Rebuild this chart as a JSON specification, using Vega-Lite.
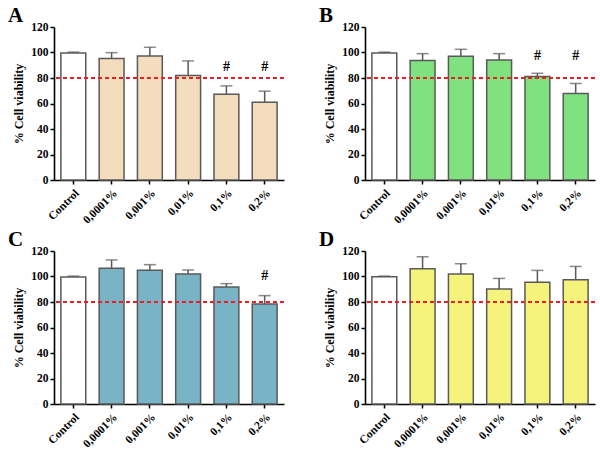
{
  "$schema": "https://vega.github.io/schema/vega-lite/v6.json",
  "background": "white",
  "padding": {"left": 8, "top": 5, "right": 5, "bottom": 0},
  "datasets": {
    "cells": [
      {"panel": "A", "group": "Control", "mean": 99.7, "upper": 100.3, "sig": "", "sig_level": 88.5},
      {"panel": "A", "group": "0,0001%", "mean": 95.2, "upper": 99.9, "sig": "", "sig_level": 88.5},
      {"panel": "A", "group": "0,001%", "mean": 97.3, "upper": 104.1, "sig": "", "sig_level": 88.5},
      {"panel": "A", "group": "0,01%", "mean": 81.9, "upper": 93.4, "sig": "", "sig_level": 88.5},
      {"panel": "A", "group": "0,1%", "mean": 67.3, "upper": 73.8, "sig": "#", "sig_level": 88.5},
      {"panel": "A", "group": "0,2%", "mean": 61.0, "upper": 69.7, "sig": "#", "sig_level": 88.5},
      {"panel": "B", "group": "Control", "mean": 99.7, "upper": 100.3, "sig": "", "sig_level": 97},
      {"panel": "B", "group": "0,0001%", "mean": 93.7, "upper": 99.1, "sig": "", "sig_level": 97},
      {"panel": "B", "group": "0,001%", "mean": 97.0, "upper": 102.5, "sig": "", "sig_level": 97},
      {"panel": "B", "group": "0,01%", "mean": 94.2, "upper": 99.1, "sig": "", "sig_level": 97},
      {"panel": "B", "group": "0,1%", "mean": 81.1, "upper": 83.7, "sig": "#", "sig_level": 97},
      {"panel": "B", "group": "0,2%", "mean": 67.8, "upper": 75.7, "sig": "#", "sig_level": 97},
      {"panel": "C", "group": "Control", "mean": 99.7, "upper": 100.3, "sig": "", "sig_level": 100.5},
      {"panel": "C", "group": "0,0001%", "mean": 106.4, "upper": 113.0, "sig": "", "sig_level": 100.5},
      {"panel": "C", "group": "0,001%", "mean": 104.9, "upper": 109.3, "sig": "", "sig_level": 100.5},
      {"panel": "C", "group": "0,01%", "mean": 102.0, "upper": 105.1, "sig": "", "sig_level": 100.5},
      {"panel": "C", "group": "0,1%", "mean": 91.8, "upper": 94.4, "sig": "", "sig_level": 100.5},
      {"panel": "C", "group": "0,2%", "mean": 78.5, "upper": 85.0, "sig": "#", "sig_level": 100.5},
      {"panel": "D", "group": "Control", "mean": 99.8, "upper": 100.3, "sig": "", "sig_level": 0},
      {"panel": "D", "group": "0,0001%", "mean": 106.1, "upper": 115.5, "sig": "", "sig_level": 0},
      {"panel": "D", "group": "0,001%", "mean": 101.9, "upper": 110.0, "sig": "", "sig_level": 0},
      {"panel": "D", "group": "0,01%", "mean": 90.1, "upper": 98.5, "sig": "", "sig_level": 0},
      {"panel": "D", "group": "0,1%", "mean": 95.4, "upper": 104.8, "sig": "", "sig_level": 0},
      {"panel": "D", "group": "0,2%", "mean": 97.5, "upper": 107.9, "sig": "", "sig_level": 0}
    ],
    "threshold": [{"cutoff": 80}]
  },
  "config": {
    "font": "Liberation Serif",
    "view": {"stroke": null},
    "title": {"font": "Liberation Serif", "fontSize": 21, "fontWeight": "bold", "anchor": "start", "frame": "group", "dx": -46, "offset": -5, "color": "black"},
    "axis": {
      "labelFont": "Liberation Serif", "labelFontWeight": "bold", "labelFontSize": 11.5, "labelColor": "black", "labelOverlap": false,
      "titleFont": "Liberation Serif", "titleFontWeight": "bold", "titleFontSize": 12, "titleColor": "black",
      "domainColor": "black", "domainWidth": 1.6, "tickColor": "black", "tickWidth": 1.5, "tickSize": 4, "grid": false
    },
    "axisY": {"values": [0, 20, 40, 60, 80, 100, 120], "tickCount": 7, "titlePadding": 5}
  },
  "columns": 2,
  "bounds": "flush",
  "spacing": {"row": 71, "column": 81},
  "concat": [
    {
      "title": "A",
      "width": 230, "height": 153,
      "layer": [
        {
          "data": {"name": "cells"},
          "transform": [{"filter": "datum.panel === 'A'"}],
          "layer": [
            {"mark": {"type": "bar", "stroke": "#595959", "strokeWidth": 1.5},
             "encoding": {
               "x": {"field": "group", "type": "nominal", "sort": ["Control", "0,0001%", "0,001%", "0,01%", "0,1%", "0,2%"], "scale": {"paddingInner": 0.35, "paddingOuter": 0.18}, "axis": {"title": null, "labelAngle": -45, "labelPadding": 3}},
               "y": {"field": "mean", "type": "quantitative", "scale": {"domain": [0, 120]}, "axis": {"title": "% Cell viability", "values": [0, 20, 40, 60, 80, 100, 120], "tickCount": 7}},
               "fill": {"condition": {"test": "datum.group === 'Control'", "value": "white"}, "value": "#f4ddbd"}
             }},
            {"mark": {"type": "rule", "color": "#595959", "strokeWidth": 1.5},
             "encoding": {"x": {"field": "group", "type": "nominal", "sort": ["Control", "0,0001%", "0,001%", "0,01%", "0,1%", "0,2%"]}, "y": {"field": "mean", "type": "quantitative"}, "y2": {"field": "upper"}}},
            {"mark": {"type": "tick", "color": "#595959", "size": 12, "thickness": 1.5},
             "encoding": {"x": {"field": "group", "type": "nominal", "sort": ["Control", "0,0001%", "0,001%", "0,01%", "0,1%", "0,2%"]}, "y": {"field": "upper", "type": "quantitative"}}},
            {"mark": {"type": "text", "fontSize": 14, "fontWeight": "bold", "color": "black", "baseline": "middle"},
             "encoding": {"x": {"field": "group", "type": "nominal", "sort": ["Control", "0,0001%", "0,001%", "0,01%", "0,1%", "0,2%"]}, "y": {"field": "sig_level", "type": "quantitative"}, "text": {"field": "sig"}}}
          ]
        },
        {"data": {"name": "threshold"}, "mark": {"type": "rule", "color": "#ee1c25", "strokeWidth": 2, "strokeDash": [4, 3]},
         "encoding": {"y": {"field": "cutoff", "type": "quantitative", "axis": {"title": "% Cell viability", "values": [0, 20, 40, 60, 80, 100, 120], "tickCount": 7}}}}
      ]
    },
    {
      "title": "B",
      "width": 230, "height": 153,
      "layer": [
        {
          "data": {"name": "cells"},
          "transform": [{"filter": "datum.panel === 'B'"}],
          "layer": [
            {"mark": {"type": "bar", "stroke": "#595959", "strokeWidth": 1.5},
             "encoding": {
               "x": {"field": "group", "type": "nominal", "sort": ["Control", "0,0001%", "0,001%", "0,01%", "0,1%", "0,2%"], "scale": {"paddingInner": 0.35, "paddingOuter": 0.18}, "axis": {"title": null, "labelAngle": -45, "labelPadding": 3}},
               "y": {"field": "mean", "type": "quantitative", "scale": {"domain": [0, 120]}, "axis": {"title": "% Cell viability", "values": [0, 20, 40, 60, 80, 100, 120], "tickCount": 7}},
               "fill": {"condition": {"test": "datum.group === 'Control'", "value": "white"}, "value": "#80e27e"}
             }},
            {"mark": {"type": "rule", "color": "#595959", "strokeWidth": 1.5},
             "encoding": {"x": {"field": "group", "type": "nominal", "sort": ["Control", "0,0001%", "0,001%", "0,01%", "0,1%", "0,2%"]}, "y": {"field": "mean", "type": "quantitative"}, "y2": {"field": "upper"}}},
            {"mark": {"type": "tick", "color": "#595959", "size": 12, "thickness": 1.5},
             "encoding": {"x": {"field": "group", "type": "nominal", "sort": ["Control", "0,0001%", "0,001%", "0,01%", "0,1%", "0,2%"]}, "y": {"field": "upper", "type": "quantitative"}}},
            {"mark": {"type": "text", "fontSize": 14, "fontWeight": "bold", "color": "black", "baseline": "middle"},
             "encoding": {"x": {"field": "group", "type": "nominal", "sort": ["Control", "0,0001%", "0,001%", "0,01%", "0,1%", "0,2%"]}, "y": {"field": "sig_level", "type": "quantitative"}, "text": {"field": "sig"}}}
          ]
        },
        {"data": {"name": "threshold"}, "mark": {"type": "rule", "color": "#ee1c25", "strokeWidth": 2, "strokeDash": [4, 3]},
         "encoding": {"y": {"field": "cutoff", "type": "quantitative", "axis": {"title": "% Cell viability", "values": [0, 20, 40, 60, 80, 100, 120], "tickCount": 7}}}}
      ]
    },
    {
      "title": "C",
      "width": 230, "height": 153,
      "layer": [
        {
          "data": {"name": "cells"},
          "transform": [{"filter": "datum.panel === 'C'"}],
          "layer": [
            {"mark": {"type": "bar", "stroke": "#595959", "strokeWidth": 1.5},
             "encoding": {
               "x": {"field": "group", "type": "nominal", "sort": ["Control", "0,0001%", "0,001%", "0,01%", "0,1%", "0,2%"], "scale": {"paddingInner": 0.35, "paddingOuter": 0.18}, "axis": {"title": null, "labelAngle": -45, "labelPadding": 3}},
               "y": {"field": "mean", "type": "quantitative", "scale": {"domain": [0, 120]}, "axis": {"title": "% Cell viability", "values": [0, 20, 40, 60, 80, 100, 120], "tickCount": 7}},
               "fill": {"condition": {"test": "datum.group === 'Control'", "value": "white"}, "value": "#79b4c6"}
             }},
            {"mark": {"type": "rule", "color": "#595959", "strokeWidth": 1.5},
             "encoding": {"x": {"field": "group", "type": "nominal", "sort": ["Control", "0,0001%", "0,001%", "0,01%", "0,1%", "0,2%"]}, "y": {"field": "mean", "type": "quantitative"}, "y2": {"field": "upper"}}},
            {"mark": {"type": "tick", "color": "#595959", "size": 12, "thickness": 1.5},
             "encoding": {"x": {"field": "group", "type": "nominal", "sort": ["Control", "0,0001%", "0,001%", "0,01%", "0,1%", "0,2%"]}, "y": {"field": "upper", "type": "quantitative"}}},
            {"mark": {"type": "text", "fontSize": 14, "fontWeight": "bold", "color": "black", "baseline": "middle"},
             "encoding": {"x": {"field": "group", "type": "nominal", "sort": ["Control", "0,0001%", "0,001%", "0,01%", "0,1%", "0,2%"]}, "y": {"field": "sig_level", "type": "quantitative"}, "text": {"field": "sig"}}}
          ]
        },
        {"data": {"name": "threshold"}, "mark": {"type": "rule", "color": "#ee1c25", "strokeWidth": 2, "strokeDash": [4, 3]},
         "encoding": {"y": {"field": "cutoff", "type": "quantitative", "axis": {"title": "% Cell viability", "values": [0, 20, 40, 60, 80, 100, 120], "tickCount": 7}}}}
      ]
    },
    {
      "title": "D",
      "width": 230, "height": 153,
      "layer": [
        {
          "data": {"name": "cells"},
          "transform": [{"filter": "datum.panel === 'D'"}],
          "layer": [
            {"mark": {"type": "bar", "stroke": "#595959", "strokeWidth": 1.5},
             "encoding": {
               "x": {"field": "group", "type": "nominal", "sort": ["Control", "0,0001%", "0,001%", "0,01%", "0,1%", "0,2%"], "scale": {"paddingInner": 0.35, "paddingOuter": 0.18}, "axis": {"title": null, "labelAngle": -45, "labelPadding": 3}},
               "y": {"field": "mean", "type": "quantitative", "scale": {"domain": [0, 120]}, "axis": {"title": "% Cell viability", "values": [0, 20, 40, 60, 80, 100, 120], "tickCount": 7}},
               "fill": {"condition": {"test": "datum.group === 'Control'", "value": "white"}, "value": "#f6f37d"}
             }},
            {"mark": {"type": "rule", "color": "#595959", "strokeWidth": 1.5},
             "encoding": {"x": {"field": "group", "type": "nominal", "sort": ["Control", "0,0001%", "0,001%", "0,01%", "0,1%", "0,2%"]}, "y": {"field": "mean", "type": "quantitative"}, "y2": {"field": "upper"}}},
            {"mark": {"type": "tick", "color": "#595959", "size": 12, "thickness": 1.5},
             "encoding": {"x": {"field": "group", "type": "nominal", "sort": ["Control", "0,0001%", "0,001%", "0,01%", "0,1%", "0,2%"]}, "y": {"field": "upper", "type": "quantitative"}}}
          ]
        },
        {"data": {"name": "threshold"}, "mark": {"type": "rule", "color": "#ee1c25", "strokeWidth": 2, "strokeDash": [4, 3]},
         "encoding": {"y": {"field": "cutoff", "type": "quantitative", "axis": {"title": "% Cell viability", "values": [0, 20, 40, 60, 80, 100, 120], "tickCount": 7}}}}
      ]
    }
  ]
}
